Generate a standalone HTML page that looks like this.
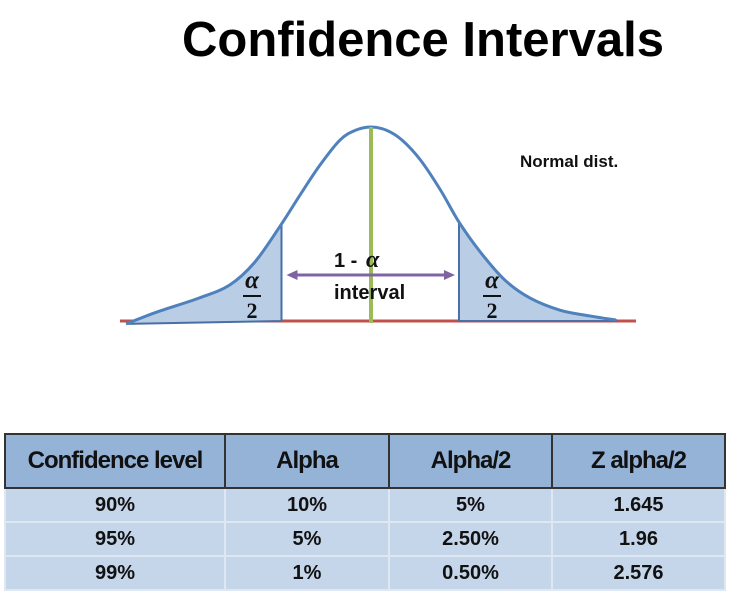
<!DOCTYPE html>
<html><head><meta charset="utf-8"><style>
body{margin:0;width:744px;height:612px;background:#fff;font-family:"Liberation Sans",sans-serif;overflow:hidden;position:relative}
#title{position:absolute;left:182px;top:12px;font-size:49px;font-weight:bold;color:#000}
table{position:absolute;left:4px;top:433px;border-collapse:collapse;width:722px;font-weight:bold;color:#111;table-layout:fixed}
th{background:#95b3d7;height:52px;font-size:24px;border:2px solid #333;font-weight:bold;letter-spacing:-1px;padding:0}
td{background:#c5d5ea;height:32px;font-size:20px;text-align:center;border:2px solid #dfe7f2;padding:0}
</style></head><body>
<div id="title">Confidence Intervals</div>
<svg id="dia" width="744" height="400" style="position:absolute;left:0;top:0"></svg>
<table>
<thead><tr>
<th style="width:218px">Confidence level</th>
<th style="width:162px">Alpha</th>
<th style="width:161px">Alpha/2</th>
<th>Z alpha/2</th></tr></thead>
<tbody id="tb"></tbody></table>
<script>
const confLevels=["90%","95%","99%"];
const alphas=["10%","5%","1%"];
const halfAlphas=["5%","2.50%","0.50%"];
const zValues=["1.645","1.96","2.576"];
const curveZ=[-3.2,-2.8,-2.25,-1.85,-1.52,-1.18,-0.93,-0.67,-0.41,-0.21,0,0.21,0.41,0.65,0.91,1.15,1.43,1.75,2.08,2.47,2.86,3.2];
const curveD=[-0.015,0.046,0.118,0.185,0.303,0.494,0.648,0.802,0.931,0.982,1,0.982,0.931,0.828,0.674,0.51,0.355,0.211,0.118,0.056,0.026,0.005];
const cutLeft=-1.17, cutRight=1.15;
const sx=z=>371+z*76.5, sy=d=>321-d*194;
const svg=document.getElementById('dia'),NS='http://www.w3.org/2000/svg';
function mk(t,a,name){const e=document.createElementNS(NS,t);for(const k in a)e.setAttribute(k,a[k]);


svg.appendChild(e);return e;}
function smooth(pts){let d='M'+pts[0][0]+','+pts[0][1];for(let i=0;i<pts.length-1;i++){const p0=pts[Math.max(0,i-1)],p1=pts[i],p2=pts[i+1],p3=pts[Math.min(pts.length-1,i+2)];
d+=` C${p1[0]+(p2[0]-p0[0])/6},${p1[1]+(p2[1]-p0[1])/6} ${p2[0]-(p3[0]-p1[0])/6},${p2[1]-(p3[1]-p1[1])/6} ${p2[0]},${p2[1]}`;}return d;}
function interp(z){for(let i=0;i<curveZ.length-1;i++)if(z>=curveZ[i]&&z<=curveZ[i+1]){const t=(z-curveZ[i])/(curveZ[i+1]-curveZ[i]);return curveD[i]+t*(curveD[i+1]-curveD[i]);}return 0;}
let lp=[],rp=[];
curveZ.forEach((z,i)=>{if(z<cutLeft)lp.push([sx(z),sy(curveD[i])]);if(z>cutRight)rp.push([sx(z),sy(curveD[i])]);});
lp.push([sx(cutLeft),sy(interp(cutLeft))]);
rp.unshift([sx(cutRight),sy(interp(cutRight))]);
mk('line',{x1:120,y1:321,x2:636,y2:321,stroke:'#c0504d','stroke-width':3},'baseline');
mk('path',{d:smooth(lp)+` L${sx(cutLeft)},${sy(0)} Z`,fill:'#b9cde5',stroke:'#4a6fa5','stroke-width':2},'left-tail-area');
mk('path',{d:`M${sx(cutRight)},${sy(0)} L`+smooth(rp).slice(1)+` L${sx(curveZ[curveZ.length-1])},${sy(0)} Z`,fill:'#b9cde5',stroke:'#4a6fa5','stroke-width':2},'right-tail-area');
mk('path',{d:smooth(curveZ.map((z,i)=>[sx(z),sy(curveD[i])])),fill:'none',stroke:'#4f81bd','stroke-width':3},'normal-curve');
mk('line',{x1:sx(0),y1:sy(1),x2:sx(0),y2:sy(0)+2,stroke:'#9bbb59','stroke-width':4},'mean-line');
const ay=275,ax1=sx(cutLeft)+5,ax2=sx(cutRight)-4;
mk('line',{x1:ax1+6,y1:ay,x2:ax2-6,y2:ay,stroke:'#8064a2','stroke-width':3},'interval-arrow');
mk('polygon',{points:`${ax1},${ay} ${ax1+11},${ay-5} ${ax1+11},${ay+5}`,fill:'#8064a2'},'arrow-head-left');
mk('polygon',{points:`${ax2},${ay} ${ax2-11},${ay-5} ${ax2-11},${ay+5}`,fill:'#8064a2'},'arrow-head-right');
function txt(x,y,s,size,name,extra){const t=mk('text',Object.assign({x:x,y:y,'font-size':size,'font-weight':'bold','font-family':'Liberation Sans, sans-serif',fill:'#111'},extra||{}),name);t.textContent=s;return t;}
txt(334,267,'1 - ',20,'interval-label-top');
txt(366,267,'α',24,'alpha-symbol',{'font-style':'italic','font-family':'Liberation Serif, serif'});
txt(334,299,'interval',20,'interval-label');
[[252,'left'],[492,'right']].forEach(([x,s])=>{
txt(x,288,'α',25,'alpha-'+s,{'text-anchor':'middle','font-style':'italic','font-family':'Liberation Serif, serif'});
mk('line',{x1:x-9,y1:296,x2:x+9,y2:296,stroke:'#111','stroke-width':2},'fraction-bar-'+s);
txt(x,318,'2',22,'two-'+s,{'text-anchor':'middle','font-family':'Liberation Serif, serif'});});
txt(520,167,'Normal dist.',17,'normal-dist-label');
const tb=document.getElementById('tb');
confLevels.forEach((c,i)=>{const tr=document.createElement('tr');


[c,alphas[i],halfAlphas[i],zValues[i]].forEach(v=>{const td=document.createElement('td');td.textContent=v;


tr.appendChild(td);});tb.appendChild(tr);});
</script>
</body></html>
